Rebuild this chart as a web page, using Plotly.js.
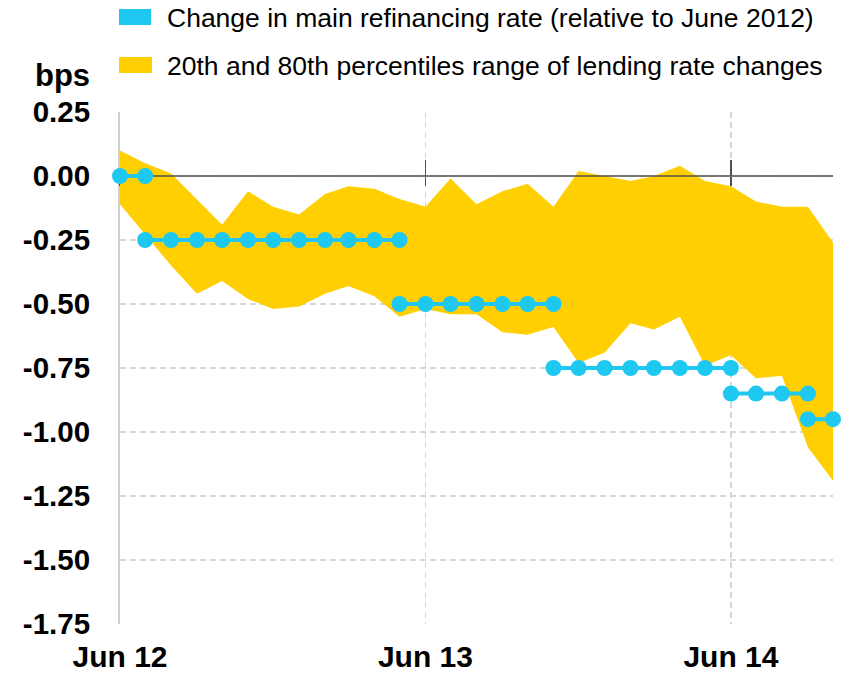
<!DOCTYPE html>
<html>
<head>
<meta charset="utf-8">
<script src="https://cdn.plot.ly/plotly-3.0.1.min.js"></script>
<style>
html,body{margin:0;padding:0;background:#fff;}
#chart{width:842px;height:675px;}
</style>
</head>
<body>
<div id="chart"></div>
<script>
// Monthly observations, Jun 2012 .. Oct 2014
var months = [
  '2012-06-01','2012-07-01','2012-08-01','2012-09-01','2012-10-01','2012-11-01','2012-12-01',
  '2013-01-01','2013-02-01','2013-03-01','2013-04-01','2013-05-01','2013-06-01','2013-07-01',
  '2013-08-01','2013-09-01','2013-10-01','2013-11-01','2013-12-01','2014-01-01','2014-02-01',
  '2014-03-01','2014-04-01','2014-05-01','2014-06-01','2014-07-01','2014-08-01','2014-09-01',
  '2014-10-01'
];
// 80th percentile (upper edge) of lending rate changes
var upper80 = [0.10, 0.05, 0.01, -0.09, -0.19, -0.06, -0.12, -0.15, -0.07, -0.04, -0.05, -0.09,
  -0.12, -0.01, -0.11, -0.06, -0.03, -0.12, 0.02, 0.00, -0.02, 0.00, 0.04, -0.02,
  -0.04, -0.10, -0.12, -0.12, -0.26];
// 20th percentile (lower edge) of lending rate changes
var lower20 = [-0.11, -0.23, -0.35, -0.46, -0.41, -0.48, -0.52, -0.51, -0.46, -0.43, -0.47, -0.55,
  -0.52, -0.54, -0.54, -0.61, -0.62, -0.59, -0.73, -0.69, -0.575, -0.60, -0.55, -0.74,
  -0.70, -0.79, -0.78, -1.06, -1.19];
// Main refinancing rate change relative to June 2012: step segments
var stepStart = ['2012-06-01','2012-07-01','2013-05-01','2013-11-01','2014-06-01','2014-09-01'];
var stepEnd   = ['2012-07-01','2013-05-01','2013-11-01','2014-06-01','2014-09-01','2014-10-01'];
var stepLevel = [0.00, -0.25, -0.50, -0.75, -0.85, -0.95];

var xTickVals = ['2012-06-01','2013-06-01','2014-06-01'];
var xTickText = ['Jun 12','Jun 13','Jun 14'];
var yTickVals = [0.25, 0, -0.25, -0.5, -0.75, -1, -1.25, -1.5, -1.75];
var yTickText = ['0.25','0.00','-0.25','-0.50','-0.75','-1.00','-1.25','-1.50','-1.75'];

var legendLabels = ['Change in main refinancing rate (relative to June 2012)',
                    '20th and 80th percentiles range of lending rate changes'];

var BLUE = '#1FC8F1';
var YELLOW = '#FFCF01';
var AXIS_DARK = '#505050';
var FONT = '"Liberation Sans", Arial, Helvetica, sans-serif';

// build stepped series (segments separated by gaps)
var stepX = [], stepY = [];
for (var s = 0; s < stepLevel.length; s++) {
  var i0 = months.indexOf(stepStart[s]);
  var i1 = months.indexOf(stepEnd[s]);
  for (var i = i0; i <= i1; i++) { stepX.push(months[i]); stepY.push(stepLevel[s]); }
  if (s < stepLevel.length - 1) { stepX.push(months[i1]); stepY.push(null); }
}

var traces = [
  {x: months, y: lower20, type: 'scatter', mode: 'lines', line: {width: 0, color: YELLOW},
   showlegend: false, hoverinfo: 'skip'},
  {x: months, y: upper80, type: 'scatter', mode: 'lines', fill: 'tonexty', fillcolor: YELLOW,
   line: {width: 0, color: YELLOW}, showlegend: false, name: legendLabels[1]},
  {x: [months[0], months[months.length - 1]], y: [0, 0], type: 'scatter', mode: 'lines',
   xaxis: 'x2', line: {width: 1.5, color: AXIS_DARK}, showlegend: false, hoverinfo: 'skip'},
  {x: stepX, y: stepY, type: 'scatter', mode: 'lines+markers', connectgaps: false,
   xaxis: 'x3', line: {width: 4, color: BLUE}, marker: {size: 16, color: BLUE},
   cliponaxis: false, showlegend: false, name: legendLabels[0]}
];

var L = 120, R = 833, T = 112, B = 624;
function px(x) { return (x - L) / (R - L); }
function py(y) { return (B - y) / (B - T); }

var xRange = [months[0], months[months.length - 1]];
var zeroPos = (0 - (-1.75)) / (0.25 - (-1.75));

var layout = {
  width: 842, height: 675,
  margin: {l: L, r: 842 - R, t: T, b: 675 - B},
  paper_bgcolor: '#fff', plot_bgcolor: '#fff',
  showlegend: false,
  font: {family: FONT, color: '#000'},
  xaxis: {
    type: 'date', range: xRange, tickvals: xTickVals, ticktext: xTickText,
    showgrid: true, gridcolor: '#d6d6d6', gridwidth: 1.5, griddash: '6px,4px',
    showline: false, zeroline: false, ticks: '', ticklabelstandoff: 12,
    tickfont: {family: FONT, size: 30, color: '#000', weight: 'bold'},
    fixedrange: true
  },
  xaxis2: {
    type: 'date', range: xRange, tickvals: xTickVals, overlaying: 'x', anchor: 'free',
    position: zeroPos, showticklabels: false, showgrid: false, showline: false, zeroline: false,
    ticks: 'inside', ticklen: 16, tickwidth: 1.5, tickcolor: AXIS_DARK, layer: 'below traces',
    fixedrange: true
  },
  xaxis3: {
    type: 'date', range: xRange, tickvals: xTickVals, overlaying: 'x', anchor: 'free',
    position: zeroPos, showticklabels: false, showgrid: false, showline: false, zeroline: false,
    ticks: 'outside', ticklen: 9, tickwidth: 1.5, tickcolor: AXIS_DARK, layer: 'below traces',
    fixedrange: true
  },
  yaxis: {
    range: [-1.75, 0.25], tickvals: yTickVals, ticktext: yTickText,
    showgrid: true, gridcolor: '#d6d6d6', gridwidth: 1.5, griddash: '6px,4px',
    showline: true, linecolor: '#cfcfcf', linewidth: 2, layer: 'below traces',
    zeroline: false, ticks: '', ticklabelstandoff: 22,
    tickfont: {family: FONT, size: 29.5, color: '#000', weight: 'bold'},
    fixedrange: true
  },
  shapes: [
    {type: 'rect', xref: 'paper', yref: 'paper', x0: px(119), x1: px(151), y0: py(25), y1: py(9),
     fillcolor: BLUE, line: {width: 0}},
    {type: 'rect', xref: 'paper', yref: 'paper', x0: px(119), x1: px(152), y0: py(73), y1: py(57),
     fillcolor: YELLOW, line: {width: 0}}
  ],
  annotations: [
    {xref: 'paper', yref: 'paper', x: px(165), y: py(18), xanchor: 'left', yanchor: 'middle',
     text: legendLabels[0], showarrow: false, font: {family: FONT, size: 26.5, color: '#000'}},
    {xref: 'paper', yref: 'paper', x: px(165), y: py(66), xanchor: 'left', yanchor: 'middle',
     text: legendLabels[1], showarrow: false, font: {family: FONT, size: 26.5, color: '#000'}},
    {xref: 'paper', yref: 'paper', x: px(92), y: py(75), xanchor: 'right', yanchor: 'middle',
     text: '<b>bps</b>', showarrow: false, font: {family: FONT, size: 31, color: '#000'}}
  ]
};

Plotly.newPlot('chart', traces, layout, {displayModeBar: false, staticPlot: true});
</script>
</body>
</html>
